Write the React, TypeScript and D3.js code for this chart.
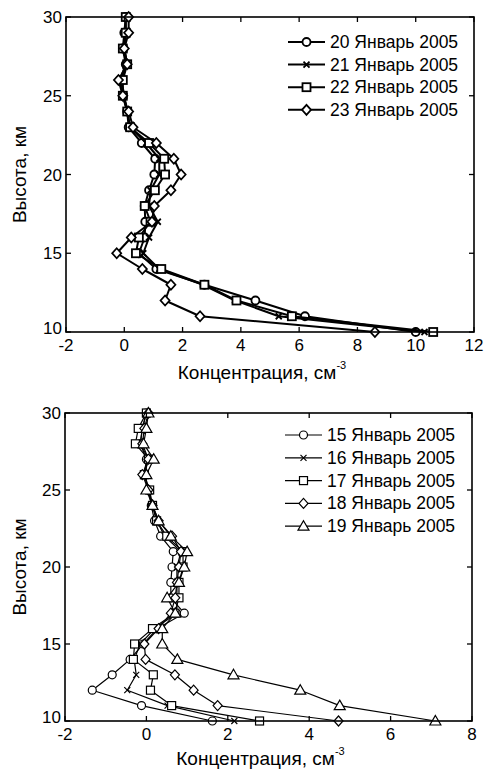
import React from 'react';
import * as d3 from 'd3';

// ---------- data ----------
const altitudes = [10, 11, 12, 13, 14, 15, 16, 17, 18, 19, 20, 21, 22, 23, 24, 25, 26, 27, 28, 29, 30];

const topLabels = ['20 Январь 2005', '21 Январь 2005', '22 Январь 2005', '23 Январь 2005'];
const topMarkers = ['circle', 'cross', 'square', 'diamond'];
const jan20 = [10.0, 6.2, 4.5, 2.75, 1.1, 0.5, 0.7, 0.72, 0.7, 0.85, 1.03, 1.06, 0.6, 0.15, 0.1, -0.05, -0.15, 0.05, -0.05, 0.0, 0.05];
const jan21 = [10.3, 5.3, 3.8, 2.7, 1.2, 0.65, 0.85, 1.15, 0.85, 0.9, 1.2, 1.2, 0.75, 0.2, 0.1, 0.0, -0.1, 0.1, 0.0, 0.05, 0.05];
const jan22 = [10.6, 5.75, 3.85, 2.75, 1.27, 0.4, 0.5, 0.9, 0.7, 1.05, 1.4, 1.37, 0.85, 0.2, 0.1, -0.05, -0.05, 0.1, -0.05, 0.05, 0.05];
const jan23 = [8.6, 2.6, 1.4, 1.6, 0.62, -0.26, 0.24, 0.95, 1.03, 1.6, 1.95, 1.7, 1.1, 0.3, 0.15, -0.05, -0.2, 0.1, 0.0, 0.15, 0.15];
const topXTicks = [-2, 0, 2, 4, 6, 8, 10, 12];

const botLabels = ['15 Январь 2005', '16 Январь 2005', '17 Январь 2005', '18 Январь 2005', '19 Январь 2005'];
const botMarkers = ['circle', 'cross', 'square', 'diamond', 'triangle'];
const jan15 = [1.62, -0.12, -1.33, -0.84, -0.4, -0.08, 0.27, 0.93, 0.6, 0.6, 0.63, 0.66, 0.35, 0.2, 0.12, 0.05, -0.05, 0.0, -0.15, -0.1, 0.0];
const jan16 = [2.16, 0.52, -0.47, -0.25, -0.3, -0.15, 0.2, 0.75, 0.75, 0.75, 0.75, 0.85, 0.45, 0.25, 0.15, 0.05, -0.05, 0.05, -0.15, -0.1, 0.0];
const jan17 = [2.78, 0.62, 0.1, 0.17, -0.32, -0.29, 0.15, 0.7, 0.8, 0.8, 0.9, 0.9, 0.5, 0.25, 0.15, 0.08, -0.05, 0.05, -0.27, -0.2, 0.0];
const jan18 = [4.72, 1.75, 1.16, 0.7, -0.02, -0.05, 0.3, 0.6, 0.71, 0.75, 0.8, 0.85, 0.63, 0.3, 0.15, 0.05, -0.1, 0.05, -0.1, -0.05, 0.05];
const jan19 = [7.1, 4.75, 3.78, 2.14, 0.76, 0.39, 0.39, 0.71, 0.51, 0.8, 0.93, 1.0, 0.6, 0.3, 0.15, 0.0, 0.0, 0.18, -0.07, 0.0, 0.05];
const botXTicks = [-2, 0, 2, 4, 6, 8];

const yTicks = [10, 15, 20, 25, 30];

const FONT = '"Liberation Sans", Arial, sans-serif';

function Marker({ type, x, y, sw }: { type: string; x: number; y: number; sw: number }) {
  const common = { fill: 'white', stroke: 'black', strokeWidth: sw };
  if (type === 'circle') return <circle cx={x} cy={y} r={4} {...common} />;
  if (type === 'square') return <rect x={x - 4} y={y - 4} width={8} height={8} {...common} />;
  if (type === 'diamond')
    return <path d={`M${x},${y - 5}L${x + 4.5},${y}L${x},${y + 5}L${x - 4.5},${y}Z`} {...common} />;
  if (type === 'triangle')
    return <path d={`M${x},${y - 5.5}L${x + 5.5},${y + 4}L${x - 5.5},${y + 4}Z`} {...common} />;
  return <path d={`M${x - 3},${y - 3}L${x + 3},${y + 3}M${x - 3},${y + 3}L${x + 3},${y - 3}`} fill="none" stroke="black" strokeWidth={sw} />;
}

interface PanelProps {
  left: number; right: number; top: number; bottom: number;
  xDomain: [number, number]; xTicks: number[];
  series: number[][]; labels: string[]; markers: string[];
  lw: number; mw: number;
  legX: number; legY: number; legStep: number; xlabOff: number;
}

function Panel(p: PanelProps) {
  const x = d3.scaleLinear().domain(p.xDomain).range([p.left, p.right]);
  const y = d3.scaleLinear().domain([10, 30]).range([p.bottom, p.top]);
  const line = d3.line<number>().x((d) => x(d)).y((_, i) => y(altitudes[i]));
  const tl = 5;
  const cy = (p.top + p.bottom) / 2;
  const cx = (p.left + p.right) / 2;
  return (
    <g>
      {p.series.map((s, si) => (
        <g key={si}>
          <path d={line(s) || ''} fill="none" stroke="black" strokeWidth={p.lw} strokeLinejoin="round" />
          {s.map((v, i) => (
            <Marker key={i} type={p.markers[si]} x={x(v)} y={y(altitudes[i])} sw={p.mw} />
          ))}
        </g>
      ))}
      <rect x={p.left} y={p.top} width={p.right - p.left} height={p.bottom - p.top} fill="none" stroke="black" strokeWidth={1.6} />
      {p.xTicks.map((t) => (
        <g key={'x' + t}>
          <line x1={x(t)} x2={x(t)} y1={p.bottom} y2={p.bottom - tl} stroke="black" strokeWidth={1.3} />
          <line x1={x(t)} x2={x(t)} y1={p.top} y2={p.top + tl} stroke="black" strokeWidth={1.3} />
          <text x={x(t)} y={p.bottom + 19} textAnchor="middle" fontSize={17} fontFamily={FONT}>{t}</text>
        </g>
      ))}
      {yTicks.map((t) => (
        <g key={'y' + t}>
          <line x1={p.left} x2={p.left + tl} y1={y(t)} y2={y(t)} stroke="black" strokeWidth={1.3} />
          <line x1={p.right} x2={p.right - tl} y1={y(t)} y2={y(t)} stroke="black" strokeWidth={1.3} />
          <text x={p.left - 4} y={y(t)} dy={t === 10 ? 2 : 6} textAnchor="end" fontSize={17} fontFamily={FONT}>{t}</text>
        </g>
      ))}
      <text x={cx - 8} y={p.bottom + p.xlabOff} textAnchor="middle" fontSize={19} fontFamily={FONT}>
        Концентрация, см<tspan dy={-10} fontSize={11}>-3</tspan>
      </text>
      <text transform={`translate(${26},${cy}) rotate(-90)`} textAnchor="middle" fontSize={19} fontFamily={FONT}>
        Высота, км
      </text>
      {p.labels.map((lab, i) => {
        const ly = p.legY + i * p.legStep;
        return (
          <g key={'l' + i}>
            <line x1={p.legX - 42} x2={p.legX - 5} y1={ly} y2={ly} stroke="black" strokeWidth={p.lw} />
            <Marker type={p.markers[i]} x={p.legX - 23.5} y={ly} sw={p.mw} />
            <text x={p.legX} y={ly + 6} fontSize={17.5} fontFamily={FONT}>{lab}</text>
          </g>
        );
      })}
    </g>
  );
}

export default function App() {
  return (
    <svg width={484} height={771} style={{ position: 'absolute', left: 0, top: 0, background: 'white' }}>
      <rect width={484} height={771} fill="white" />
      <Panel
        left={66} right={474} top={17} bottom={332}
        xDomain={[-2, 12]} xTicks={topXTicks}
        series={[jan20, jan21, jan22, jan23]} labels={topLabels} markers={topMarkers}
        lw={2} mw={1.8}
        legX={330} legY={42} legStep={22.6} xlabOff={47}
      />
      <Panel
        left={65} right={472} top={413} bottom={721}
        xDomain={[-2, 8]} xTicks={botXTicks}
        series={[jan15, jan16, jan17, jan18, jan19]} labels={botLabels} markers={botMarkers}
        lw={1.2} mw={1.2}
        legX={327} legY={435} legStep={22.8} xlabOff={44}
      />
    </svg>
  );
}
